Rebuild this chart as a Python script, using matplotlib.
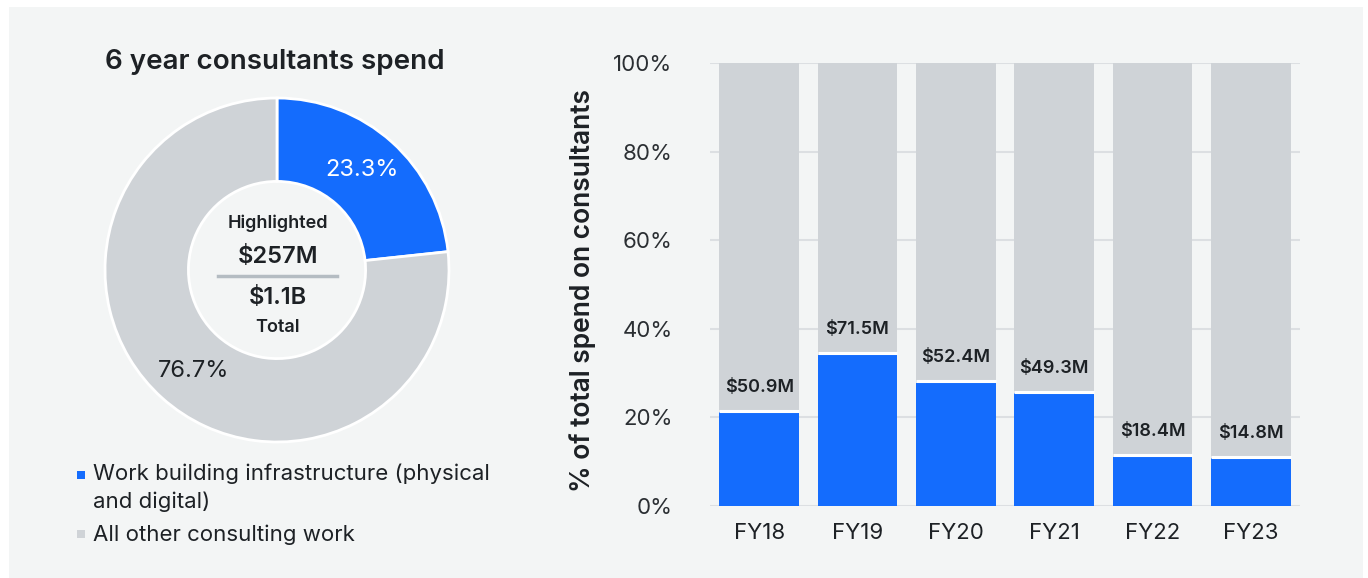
import matplotlib.pyplot as plt
from matplotlib.patches import Rectangle

# Spend split over six years
share_labels = ["Work building infrastructure (physical\nand digital)", "All other consulting work"]
share_pct = [23.3, 76.7]
highlighted_total = "$257M"
overall_total = "$1.1B"

# Yearly share of consultant spend going to infrastructure work
years = ["FY18", "FY19", "FY20", "FY21", "FY22", "FY23"]
infra_pct = [21.2, 34.1, 27.8, 25.4, 11.1, 10.8]
infra_spend = ["$50.9M", "$71.5M", "$52.4M", "$49.3M", "$18.4M", "$14.8M"]
yticks = [0, 20, 40, 60, 80, 100]

BLUE = "#146cfd"
GREY = "#cfd3d7"
PANEL = "#f3f5f5"
GRID = "#dcdfe2"
INK = "#1d2125"
BOLD = "semibold"

plt.rcParams["font.family"] = ["Inter", "DejaVu Sans"]

W, H = 1368, 578
fig = plt.figure(figsize=(W / 100, H / 100), dpi=100)
fig.patch.set_facecolor("white")


def px(x, y):
    return x / W, 1 - y / H


def box(x0, y0, x1, y1):
    return [x0 / W, 1 - y1 / H, (x1 - x0) / W, (y1 - y0) / H]


fig.patches.append(Rectangle(px(9, 578), 1354 / W, 571 / H, transform=fig.transFigure,
                             facecolor=PANEL, edgecolor="none", zorder=-5))

# ---- donut ----
ax_pie = fig.add_axes(box(105, 98, 449, 442))
ax_pie.pie(share_pct, colors=[BLUE, GREY], startangle=90, counterclock=False,
           radius=1, wedgeprops=dict(width=0.485, edgecolor="white", linewidth=2))
ax_pie.set_aspect("equal")
ax_pie.set_xlim(-1, 1)
ax_pie.set_ylim(-1, 1)

fig.text(*px(275, 62), "6 year consultants spend", ha="center", va="center",
         fontsize=20, fontweight=BOLD, color=INK)
fig.text(*px(362, 170), f"{share_pct[0]}%", ha="center", va="center",
         fontsize=17, color="white")
fig.text(*px(194, 371), f"{share_pct[1]}%", ha="center", va="center",
         fontsize=17, color=INK)

fig.text(*px(278, 223), "Highlighted", ha="center", va="center",
         fontsize=13, fontweight=BOLD, color=INK)
fig.text(*px(278, 257), highlighted_total, ha="center", va="center",
         fontsize=17, fontweight=BOLD, color=INK)
fig.add_artist(plt.Line2D([218 / W, 337 / W], [1 - 276 / H] * 2,
                          transform=fig.transFigure, color="#b4bcc2", linewidth=2.5))
fig.text(*px(278, 298), overall_total, ha="center", va="center",
         fontsize=17, fontweight=BOLD, color=INK)
fig.text(*px(278, 327), "Total", ha="center", va="center",
         fontsize=13, fontweight=BOLD, color=INK)

# legend
fig.patches.append(Rectangle(px(77, 478.5), 8 / W, 8 / H, transform=fig.transFigure,
                             facecolor=BLUE, edgecolor="none"))
fig.patches.append(Rectangle(px(77, 538), 8 / W, 8 / H, transform=fig.transFigure,
                             facecolor=GREY, edgecolor="none"))
fig.text(*px(93, 464), share_labels[0], ha="left", va="top", fontsize=16,
         color=INK, linespacing=1.45)
fig.text(*px(93, 535), share_labels[1], ha="left", va="center", fontsize=16, color=INK)

# ---- stacked bars ----
ax = fig.add_axes(box(710, 63, 1300, 506))
ax.set_facecolor("none")
x = list(range(len(years)))
bw = 0.813
ax.bar(x, [100] * len(years), width=bw, color=GREY, zorder=2)
ax.bar(x, infra_pct, width=bw, color=BLUE, zorder=3)
ax.hlines([p + 0.35 for p in infra_pct], [i - bw / 2 for i in x], [i + bw / 2 for i in x],
          color="white", linewidth=2.2, zorder=4)
for i, (p, lab) in enumerate(zip(infra_pct, infra_spend)):
    ax.annotate(lab, (i, p), xytext=(0, 18), textcoords="offset points",
                ha="center", va="center", fontsize=13, fontweight=BOLD,
                color=INK, zorder=5)

ax.set_xlim(-0.5, len(years) - 0.5)
ax.set_ylim(0, 100)
ax.set_yticks(yticks)
ax.set_yticklabels([f"{t}%" for t in yticks])
ax.set_xticks(x)
ax.set_xticklabels(years)
ax.grid(axis="y", color=GRID, linewidth=1.5, zorder=1)
ax.set_axisbelow(True)
for s in ax.spines.values():
    s.set_visible(False)
ax.tick_params(length=0, labelsize=16, colors=INK)
ax.tick_params(axis="y", pad=27)
ax.tick_params(axis="x", pad=12)
for t in ax.get_yticklabels():
    t.set_color("#2b2f33")
fig.text(*px(583, 290), "% of total spend on consultants", rotation=90,
         ha="center", va="center", fontsize=19, fontweight=BOLD, color=INK)

fig.savefig("out.png", dpi=100, facecolor=fig.get_facecolor())
